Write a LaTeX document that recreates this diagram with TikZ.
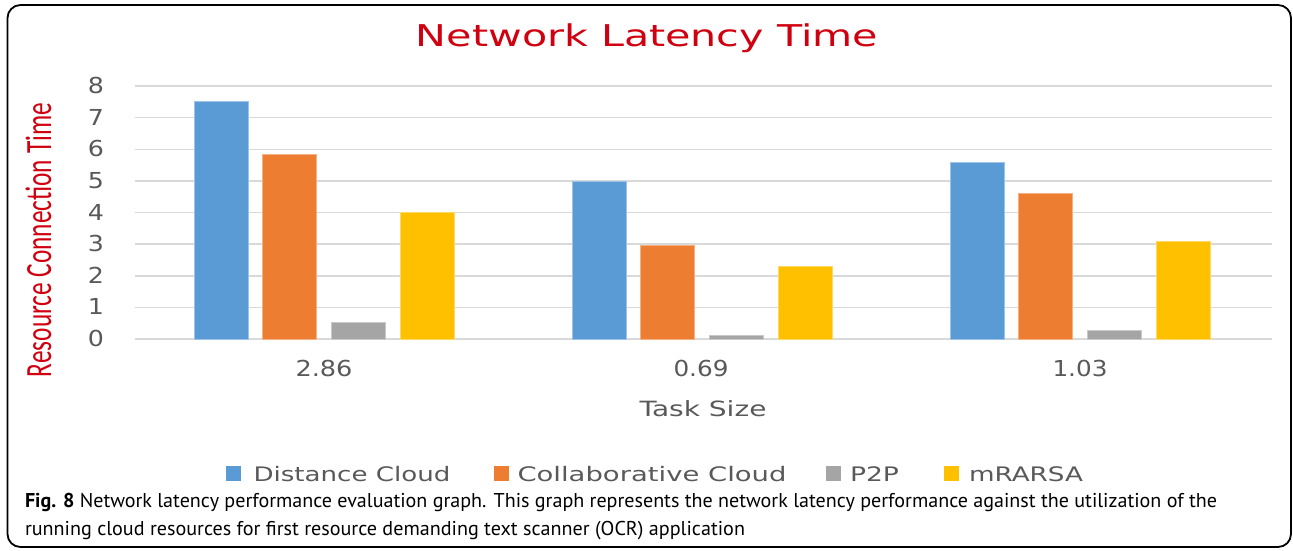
\documentclass[tikz,border=0pt]{standalone}
\usepackage{fontspec}
\usepackage{graphicx}
\setmainfont{DejaVu Sans}
\newfontfamily\capfont{PT Sans}
\newfontfamily\ylabfont{Carlito}
\definecolor{cblue}{HTML}{5B9BD5}
\definecolor{corange}{HTML}{ED7D31}
\definecolor{cgray}{HTML}{A5A5A5}
\definecolor{cyellow}{HTML}{FFC000}
\definecolor{cgrid}{HTML}{D9D9D9}
\definecolor{ctext}{HTML}{595959}
\definecolor{ctitle}{HTML}{D00010}
\newcommand\fitw[2]{\resizebox{#1}{\height}{#2}}
\begin{document}
\begin{tikzpicture}[x=1pt,y=-1pt,
  lab/.style={anchor=base, inner sep=0pt, outer sep=0pt, text=ctext},
  ticklab/.style={lab, font=\fontsize{22}{22}\selectfont},
  catlab/.style={lab, font=\fontsize{22}{22}\selectfont},
  leglab/.style={lab, anchor=base west, font=\fontsize{20}{20}\selectfont},
  legsq/.style={draw=none, minimum size=15pt, inner sep=0pt, outer sep=0pt, anchor=north west},
  gridline/.style={cgrid, line width=1.5pt},
  barstyle/.style={fill=#1, draw=#1!60!white, line width=0.6pt},
  caption/.style={anchor=base west, inner sep=0pt, outer sep=0pt, font=\capfont\fontsize{20}{20}\selectfont}
]
\useasboundingbox (0,0) rectangle (1293,550);
\fill[white] (0,0) rectangle (1293,550);
\draw[line width=1.8pt, rounded corners=13pt] (7.5,5) rectangle (1291,547);

% title
\node[anchor=base, inner sep=0pt, text=ctitle, font=\fontsize{30}{30}\selectfont] (title) at (647,46) {\fitw{462pt}{Network Latency Time}};

% grid and ticks
\foreach \k in {0,...,8}{
  \draw[gridline] (135,{339-31.625*\k}) -- (1272,{339-31.625*\k});
  \node[ticklab] (tick\k) at (96,{339-31.625*\k+7.5}) {\scalebox{1.15}[1]{\k}};
}

% bars
\foreach \g/\o/\v/\c in {
  324/-103/7.52/cblue, 324/-34.5/5.85/corange, 324/34.5/0.54/cgray, 324/103/4.0/cyellow,
  702/-103/5.0/cblue, 702/-34.5/2.97/corange, 702/34.5/0.13/cgray, 702/103/2.31/cyellow,
  1080/-103/5.6/cblue, 1080/-34.5/4.62/corange, 1080/34.5/0.29/cgray, 1080/103/3.1/cyellow}{
  \draw[barstyle=\c] ({\g+\o-27},339) rectangle ({\g+\o+27},{339-31.625*\v});
}

% category labels
\node[catlab] (c1) at (324,376) {\fitw{57pt}{2.86}};
\node[catlab] (c2) at (701,376) {\fitw{55pt}{0.69}};
\node[catlab] (c3) at (1080,376) {\fitw{55pt}{1.03}};

% axis titles
\node[lab, font=\fontsize{21}{21}\selectfont] (xtitle) at (703,416) {\fitw{127pt}{Task Size}};
\node[anchor=base, inner sep=0pt, rotate=90, text=ctitle, font=\ylabfont\fontsize{37}{37}\selectfont] (ytitle) at (51,240) {\fitw{274pt}{Resource Connection Time}};

% legend
\node[legsq, fill=cblue] (sq1) at (226,466) {};
\node[leglab] (l1) at (253.5,481) {\fitw{197pt}{Distance Cloud}};
\node[legsq, fill=corange] (sq2) at (494,466) {};
\node[leglab] (l2) at (517.5,481) {\fitw{269pt}{Collaborative Cloud}};
\node[legsq, fill=cgray] (sq3) at (826,466) {};
\node[leglab] (l3) at (850,481) {\fitw{49pt}{P2P}};
\node[legsq, fill=cyellow] (sq4) at (944,466) {};
\node[leglab] (l4) at (969,481) {\fitw{114pt}{mRARSA}};

% caption
\node[caption] (cap1) at (25,507.5) {\fitw{1192pt}{\textbf{Fig. 8} Network latency performance evaluation graph. This graph represents the network latency performance against the utilization of the}};
\node[caption] (cap2) at (25,535.5) {\fitw{720pt}{running cloud resources for first resource demanding text scanner (OCR) application}};
\end{tikzpicture}
\end{document}
